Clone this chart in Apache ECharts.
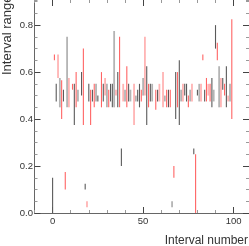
<!DOCTYPE html>
<html><head><meta charset="utf-8">
<script src="https://cdn.jsdelivr.net/npm/echarts@6/dist/echarts.min.js"></script>
<style>html,body{margin:0;padding:0;background:#fff}#c{width:249px;height:246px}</style>
</head><body><div id="c"></div>
<script>
// [interval number, range low, range high]
const darkBars = [[0,0,0.15],[2,0.475,0.55],[6,0.475,0.525],[12,0.375,0.55],[16,0.5,0.6],[18,0.1,0.125],
 [20,0.475,0.55],[22,0.475,0.525],[25,0.475,0.5],[28,0.475,0.55],[32,0.475,0.55],[33,0.45,0.55],
 [36,0.45,0.6],[38,0.2,0.275],[42,0.475,0.55],[47,0.475,0.525],[48,0.45,0.55],[52,0.375,0.625],
 [54,0.475,0.55],[58,0.475,0.525],[64,0.45,0.525],[68,0.4,0.6],[70,0.375,0.65],[73,0.5,0.55],
 [74,0.475,0.55],[78,0.25,0.275],[80,0.5,0.525],[84,0.475,0.525],[88,0.45,0.575],[90,0.7,0.8],
 [94,0.525,0.575],[96,0.45,0.625]];
const greyBars = [[4,0.45,0.575],[8,0.45,0.75],[14,0.475,0.525],[24,0.475,0.55],[30,0.45,0.55],
 [34,0.45,0.775],[40,0.475,0.525],[43,0.475,0.525],[46,0.475,0.5],[50,0.5,0.575],[55,0.475,0.55],
 [62,0.475,0.5],[66,0.025,0.05],[71,0.475,0.525],[76,0.475,0.525],[81,0.475,0.55],[89,0.475,0.525],
 [92,0.45,0.625],[98,0.475,0.55]];
const redBars = [[1,0.65,0.675],[5,0.4,0.565],[7,0.1,0.175],[11,0.525,0.55],[13,0.45,0.6],[17,0.375,0.7],
 [21,0.375,0.525],[23,0.45,0.55],[27,0.45,0.6],[31,0.45,0.525],[37,0.45,0.75],[41,0.45,0.625],
 [49,0.475,0.525],[53,0.45,0.55],[57,0.44,0.525],[63,0.45,0.525],[65,0.45,0.525],[67,0.15,0.2],
 [69,0.45,0.6],[75,0.45,0.5],[79,0,0.25],[83,0.65,0.675],[85,0.475,0.575],[87,0.475,0.55],
 [91,0.65,0.725],[95,0.5,0.55],[99,0.4,0.825]];
const pinkBars = [[3,0.575,0.675],[9,0.45,0.575],[19,0.025,0.05],[29,0.5,0.575],[35,0.5,0.525],
 [39,0.475,0.55],[45,0.375,0.55],[51,0.5,0.75],[59,0.475,0.55],[61,0.45,0.6],[72,0.475,0.55],
 [77,0.475,0.55],[82,0.475,0.55],[86,0.5,0.55],[93,0.45,0.575],[97,0.475,0.5]];
const xMajorTicks = [0, 50, 100];
const yMajorTicks = [0, 0.2, 0.4, 0.6, 0.8];

const chart = echarts.init(document.getElementById('c'), null, {renderer:'canvas'});
const FONT = 'Liberation Sans, Arial, sans-serif';
function makeSeries(data, color, w) {
  return {
    type:'custom', xAxisIndex:0, yAxisIndex:0, data:data, clip:true,
    renderItem:function(params, api){
      const lo = api.coord([api.value(0), api.value(1)]);
      const hi = api.coord([api.value(0), api.value(2)]);
      return {type:'rect', shape:{x:lo[0]-w/2, y:hi[1], width:w, height:lo[1]-hi[1]}, style:{fill:color}};
    }
  };
}
const xBase = {type:'value', min:-10, max:108.5, gridIndex:0, splitLine:{show:false}};
const yBase = {type:'value', min:0, max:0.907, gridIndex:0, splitLine:{show:false}};
chart.setOption({
  animation:false,
  grid:{left:34.5, right:0, top:0, bottom:33, containLabel:false},
  xAxis:[
    Object.assign({}, xBase, {position:'bottom', interval:10,
      axisLine:{show:true, onZero:false, lineStyle:{color:'#666', width:1}},
      axisTick:{show:true, inside:true, length:3, lineStyle:{color:'#999'}},
      axisLabel:{show:false}}),
    Object.assign({}, xBase, {position:'bottom',
      axisLine:{show:false, onZero:false},
      axisTick:{show:true, inside:true, length:6, customValues:xMajorTicks, lineStyle:{color:'#444'}},
      axisLabel:{show:true, customValues:xMajorTicks, margin:3, color:'#333', fontSize:9.5, fontFamily:FONT}}),
    Object.assign({}, xBase, {position:'top', interval:10,
      axisLine:{show:false, onZero:false},
      axisTick:{show:true, inside:true, length:3, lineStyle:{color:'#999'}},
      axisLabel:{show:false}}),
    Object.assign({}, xBase, {position:'top',
      axisLine:{show:false, onZero:false},
      axisTick:{show:true, inside:true, length:6, customValues:xMajorTicks, lineStyle:{color:'#444'}},
      axisLabel:{show:false}})
  ],
  yAxis:[
    Object.assign({}, yBase, {position:'left', interval:0.05,
      axisLine:{show:true, onZero:false, lineStyle:{color:'#666', width:1}},
      axisTick:{show:true, inside:true, length:3, lineStyle:{color:'#999'}},
      axisLabel:{show:false}}),
    Object.assign({}, yBase, {position:'left',
      axisLine:{show:false, onZero:false},
      axisTick:{show:true, inside:true, length:6, customValues:yMajorTicks, lineStyle:{color:'#444'}},
      axisLabel:{show:true, customValues:yMajorTicks, margin:1.5, color:'#333', fontSize:9.5, fontFamily:FONT,
        formatter:function(v){return v.toFixed(1);}}}),
    Object.assign({}, yBase, {position:'right', interval:0.05,
      axisLine:{show:false, onZero:false},
      axisTick:{show:true, inside:true, length:3, lineStyle:{color:'#999'}},
      axisLabel:{show:false}}),
    Object.assign({}, yBase, {position:'right',
      axisLine:{show:false, onZero:false},
      axisTick:{show:true, inside:true, length:6, customValues:yMajorTicks, lineStyle:{color:'#444'}},
      axisLabel:{show:false}})
  ],
  graphic:[
    {type:'text', x:7, y:75, rotation:Math.PI/2,
     style:{text:'Interval range', font:'13px '+FONT, fill:'#333', textAlign:'left', textVerticalAlign:'middle'}},
    {type:'text', x:248, y:241,
     style:{text:'Interval number', font:'12px '+FONT, fill:'#333', textAlign:'right', textVerticalAlign:'middle'}}
  ],
  series:[
    makeSeries(greyBars, '#b4b4b4', 1.8),
    makeSeries(pinkBars, '#ffb4b4', 1.8),
    makeSeries(darkBars, '#5a5a5a', 1.1),
    makeSeries(redBars, '#ff6464', 1.1)
  ]
});
</script></body></html>
